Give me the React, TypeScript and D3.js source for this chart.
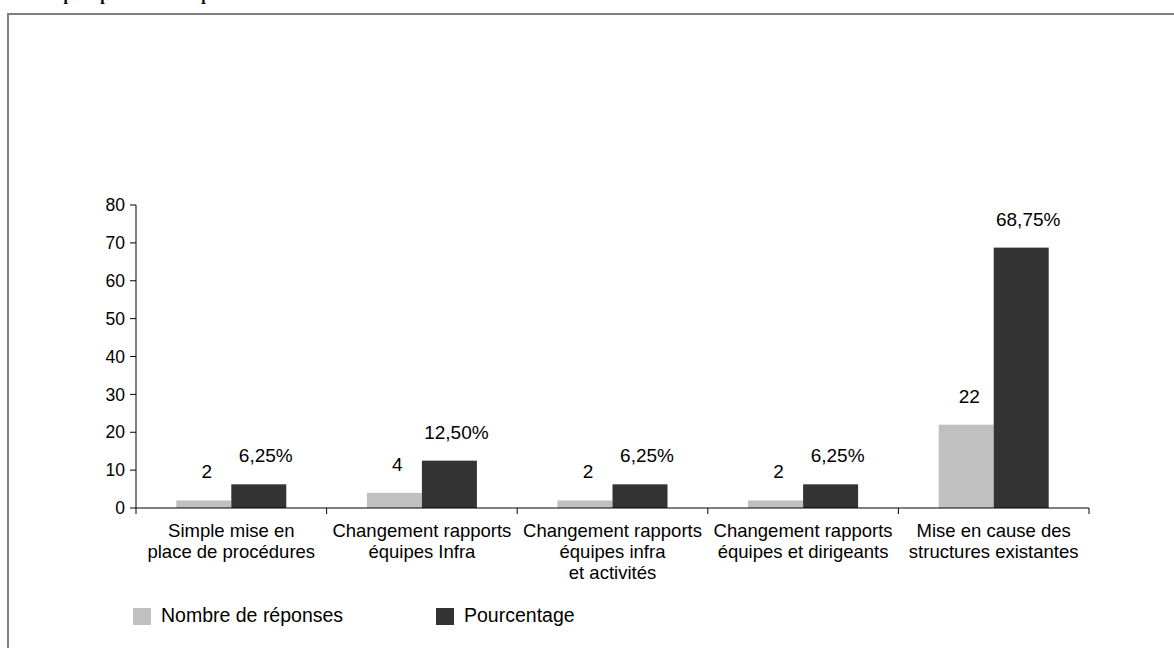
import React, { useEffect, useRef } from 'react';
import * as d3 from 'd3';

const categories = [
  ['Simple mise en', 'place de procédures'],
  ['Changement rapports', 'équipes Infra'],
  ['Changement rapports', 'équipes infra', 'et activités'],
  ['Changement rapports', 'équipes et dirigeants'],
  ['Mise en cause des', 'structures existantes'],
];
const nombre = [2, 4, 2, 2, 22];
const pourcentage = [6.25, 12.5, 6.25, 6.25, 68.75];
const pourcentageLabels = ['6,25%', '12,50%', '6,25%', '6,25%', '68,75%'];
const yTicks = [0, 10, 20, 30, 40, 50, 60, 70, 80];
const seriesNames = ['Nombre de réponses', 'Pourcentage'];
const colors = ['#c0c0c0', '#333333'];

const FONT = 'Liberation Sans, Arial, sans-serif';

const App = () => {
  const svgRef = useRef(null);

  useEffect(() => {
    const svg = d3.select(svgRef.current);
    svg.selectAll('*').remove();

    // frame (cut off at right and bottom)
    svg.append('rect')
      .attr('x', 8).attr('y', 14)
      .attr('width', 1180).attr('height', 660)
      .attr('fill', 'none').attr('stroke', '#808080').attr('stroke-width', 2);

    // title, mostly above the visible area
    svg.append('text')
      .attr('x', 8).attr('y', 0)
      .style('font-family', 'Liberation Serif, Times New Roman, serif')
      .style('font-weight', 'bold')
      .style('font-size', '16px')
      .text('Actions pour permettre une plus forte adhésion');

    const idx = categories.map((_, i) => String(i));
    const x = d3.scaleBand().domain(idx).range([136, 1089]);
    const y = d3.scaleLinear().domain([0, 80]).range([508, 205]);
    const barW = 55;
    const inner = d3.scaleBand().domain(['n', 'p']).range([0, barW * 2]);
    const off = (x.bandwidth() - barW * 2) / 2;

    const g = svg.append('g');

    // bars
    idx.forEach((k, i) => {
      const x0 = x(k) + off;
      [nombre[i], pourcentage[i]].forEach((v, j) => {
        const key = j === 0 ? 'n' : 'p';
        g.append('rect')
          .attr('x', x0 + inner(key))
          .attr('y', y(v))
          .attr('width', inner.bandwidth())
          .attr('height', y(0) - y(v))
          .attr('fill', colors[j]);
        g.append('text')
          .attr('x', x0 + inner(key) + inner.bandwidth() / 2 + (j === 0 ? 3 : 7))
          .attr('y', y(v) - 22)
          .attr('text-anchor', 'middle')
          .style('font-family', FONT)
          .style('font-size', '19px')
          .text(j === 0 ? String(v) : pourcentageLabels[i]);
      });
    });

    // y axis
    g.append('line')
      .attr('x1', 136).attr('x2', 136)
      .attr('y1', y(80)).attr('y2', y(0) + 6)
      .attr('stroke', '#000');
    yTicks.forEach((t) => {
      g.append('line')
        .attr('x1', 130).attr('x2', 136)
        .attr('y1', y(t)).attr('y2', y(t))
        .attr('stroke', '#000');
      g.append('text')
        .attr('x', 125).attr('y', y(t))
        .attr('dy', '0.35em')
        .attr('text-anchor', 'end')
        .style('font-family', FONT)
        .style('font-size', '17.5px')
        .text(t);
    });

    // x axis
    g.append('line')
      .attr('x1', 136).attr('x2', 1089)
      .attr('y1', y(0)).attr('y2', y(0))
      .attr('stroke', '#000');
    idx.forEach((k) => {
      const bx = x(k) + x.bandwidth();
      g.append('line')
        .attr('x1', bx).attr('x2', bx)
        .attr('y1', y(0)).attr('y2', y(0) + 6)
        .attr('stroke', '#000');
    });
    idx.forEach((k, i) => {
      const t = g.append('text')
        .attr('text-anchor', 'middle')
        .style('font-family', FONT)
        .style('font-size', '18.5px');
      categories[i].forEach((line, li) => {
        t.append('tspan')
          .attr('x', x(k) + x.bandwidth() / 2)
          .attr('y', 537 + li * 21)
          .text(line);
      });
    });

    // legend
    const legendX = [133, 436];
    seriesNames.forEach((name, j) => {
      g.append('rect')
        .attr('x', legendX[j]).attr('y', 608)
        .attr('width', 18).attr('height', 17)
        .attr('fill', colors[j]);
      g.append('text')
        .attr('x', legendX[j] + 28).attr('y', 622)
        .style('font-family', FONT)
        .style('font-size', '19.5px')
        .text(name);
    });
  }, []);

  return (
    <svg
      ref={svgRef}
      width={1174}
      height={648}
      style={{ position: 'absolute', left: 0, top: 0, background: '#fff' }}
    />
  );
};

export default App;
